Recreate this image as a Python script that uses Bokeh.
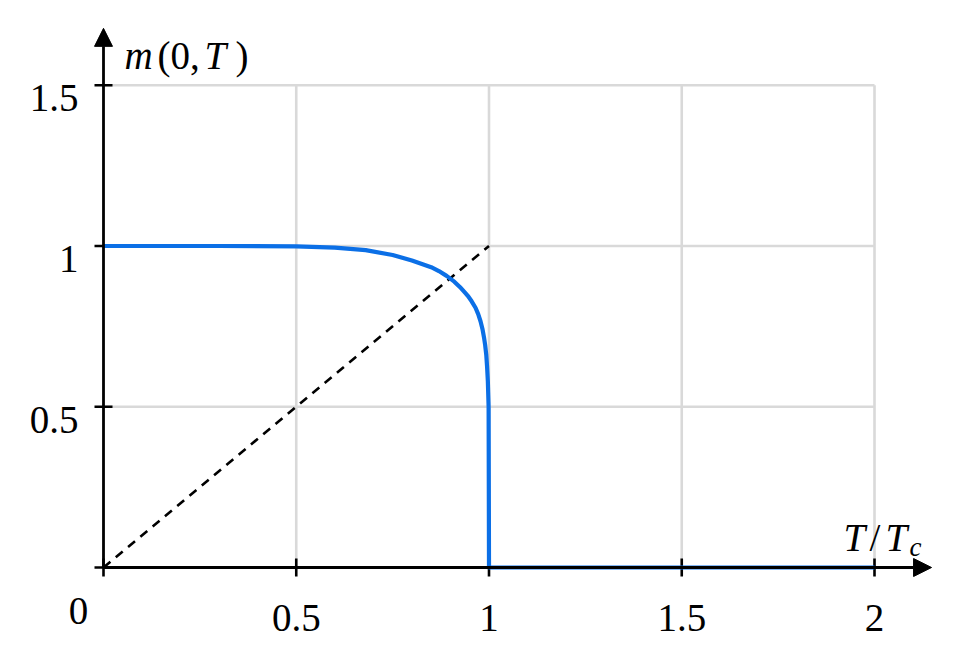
import math
from bokeh.plotting import figure
from bokeh.models import Arrow, NormalHead
from bokeh.core.properties import value
from bokeh.embed import file_html
from bokeh.resources import INLINE

# ---- data ----
T_values = [0.0, 0.3, 0.5, 0.6, 0.68, 0.75, 0.8, 0.85, 0.87, 0.89, 0.91, 0.925,
            0.94, 0.945, 0.955, 0.965, 0.972, 0.978, 0.983, 0.987, 0.99, 0.993,
            0.995, 0.997, 0.999, 1.0, 2.0]
m_values = [1.0, 1.0, 0.999, 0.995, 0.987, 0.972, 0.955, 0.934, 0.922, 0.907, 0.889, 0.872,
            0.852, 0.845, 0.828, 0.808, 0.788, 0.766, 0.742, 0.716, 0.692, 0.660,
            0.625, 0.580, 0.500, 0.0, 0.0]

diag_T = [0.0, 1.0]
diag_m = [0.0, 1.0]

x_ticks = [0.5, 1.0, 1.5, 2.0]
x_tick_labels = ["0.5", "1", "1.5", "2"]
y_ticks = [0.5, 1.0, 1.5]
y_tick_labels = ["0.5", "1", "1.5"]
origin_label = "0"

x_axis_end = 2.148
y_axis_end = 1.677

# ---- figure ----
W, H = 960, 647
x0_px, xs = 103.0, 385.5
y0_px, ys = 567.0, 321.5
x_range = (-x0_px / xs, (W - x0_px) / xs)
y_range = (-(H - y0_px) / ys, y0_px / ys)

p = figure(width=W, height=H, x_range=x_range, y_range=y_range,
           x_axis_type=None, y_axis_type=None, toolbar_location=None,
           output_backend="svg", min_border=0, outline_line_color=None,
           background_fill_color="white", border_fill_color="white")

GRID = "#d9d9d9"
BLUE = "#0b6fe6"
FONT = value("Liberation Serif")
FS = value("39px")

# grid lines
p.segment(x0=x_ticks, y0=[0] * len(x_ticks), x1=x_ticks, y1=[max(y_ticks)] * len(x_ticks),
          line_color=GRID, line_width=2.6)
p.segment(x0=[0] * len(y_ticks), y0=y_ticks, x1=[max(x_ticks)] * len(y_ticks), y1=y_ticks,
          line_color=GRID, line_width=2.6)

# dashed diagonal
p.line(diag_T, diag_m, line_color="black", line_width=2.6, line_dash="9 7")

# axes with arrows
p.add_layout(Arrow(x_start=0, y_start=0, x_end=x_axis_end, y_end=0,
                   line_width=2.8, line_color="black",
                   end=NormalHead(size=18, fill_color="black", line_color="black", line_width=1)))
p.add_layout(Arrow(x_start=0, y_start=0, x_end=0, y_end=y_axis_end,
                   line_width=2.8, line_color="black",
                   end=NormalHead(size=18, fill_color="black", line_color="black", line_width=1)))

# tick marks (including the ones at 0)
xt_all = [0.0] + x_ticks
yt_all = [0.0] + y_ticks
p.scatter(x=xt_all, y=[0] * len(xt_all), marker="dash", size=18, angle=math.pi / 2,
          line_color="black", line_width=2.6)
p.scatter(x=[0] * len(yt_all), y=yt_all, marker="dash", size=18,
          line_color="black", line_width=2.6)

# curve
p.line(T_values, m_values, line_color=BLUE, line_width=4.2, line_join="round")

# tick labels
p.text(x=x_ticks, y=[0] * len(x_ticks), text=x_tick_labels, text_font=FONT,
       text_font_size=FS, text_align="center", text_baseline="alphabetic",
       y_offset=50, text_color="black")
p.text(x=[0] * len(y_ticks), y=y_ticks, text=y_tick_labels, text_font=FONT,
       text_font_size=FS, text_align="right", text_baseline="alphabetic",
       x_offset=-25, y_offset=13, text_color="black")
p.text(x=[0], y=[0], text=[origin_label], text_font=FONT, text_font_size=FS,
       text_align="center", text_baseline="alphabetic", x_offset=-25, y_offset=43,
       text_color="black")

# y axis title  m(0,T)
ytop = max(y_ticks)
p.text(x=[0], y=[ytop], text=["m"], text_font=FONT, text_font_size=FS,
       text_font_style="italic", text_align="left", text_baseline="alphabetic",
       x_offset=21, y_offset=-30)
p.text(x=[0], y=[ytop], text=["(0,"], text_font=FONT, text_font_size=FS,
       text_align="left", text_baseline="alphabetic", x_offset=54, y_offset=-30)
p.text(x=[0], y=[ytop], text=["T"], text_font=FONT, text_font_size=FS,
       text_font_style="italic", text_align="left", text_baseline="alphabetic",
       x_offset=101, y_offset=-30)
p.text(x=[0], y=[ytop], text=[")"], text_font=FONT, text_font_size=FS,
       text_align="left", text_baseline="alphabetic", x_offset=132, y_offset=-30)

# x axis title  T/T_c
xr = max(x_ticks)
p.text(x=[xr], y=[0], text=["T"], text_font=FONT, text_font_size=FS,
       text_font_style="italic", text_align="left", text_baseline="alphabetic",
       x_offset=-31, y_offset=-30)
p.text(x=[xr], y=[0], text=["/"], text_font=FONT, text_font_size=FS,
       text_align="left", text_baseline="alphabetic", x_offset=-5, y_offset=-30)
p.text(x=[xr], y=[0], text=["T"], text_font=FONT, text_font_size=FS,
       text_font_style="italic", text_align="left", text_baseline="alphabetic",
       x_offset=11, y_offset=-30)
p.text(x=[xr], y=[0], text=["c"], text_font=FONT, text_font_size=value("27px"),
       text_font_style="italic", text_align="left", text_baseline="alphabetic",
       x_offset=35, y_offset=-21)

open("out.html", "w").write(file_html(p, INLINE))
